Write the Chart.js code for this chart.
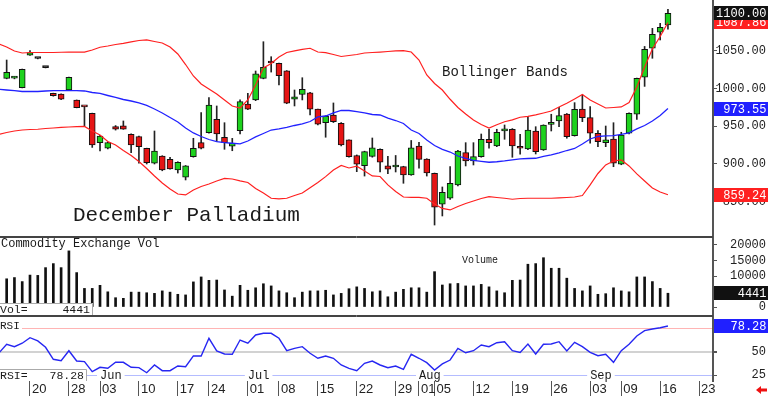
<!DOCTYPE html>
<html>
<head>
<meta charset="utf-8">
<script src="https://cdn.jsdelivr.net/npm/chart.js@4"></script>
<style>
  html, body { margin: 0; padding: 0; background: #fff; overflow: hidden; }
  #wrap { position: relative; width: 768px; height: 396px; }
  canvas { position: absolute; left: 0; }
</style>
</head>
<body>
<div id="wrap">
  <canvas id="price" width="768" height="237" style="top:0px"></canvas>
  <canvas id="vol" width="768" height="79" style="top:237px"></canvas>
  <canvas id="rsi" width="768" height="80" style="top:316px"></canvas>
</div>
<script>
// trading days (2024), first one is only used by the indicators
const dates = ['05-14','05-15','05-16','05-17','05-20','05-21','05-22','05-23','05-24','05-28','05-29','05-30','05-31',
  '06-03','06-04','06-05','06-06','06-07','06-10','06-11','06-12','06-13','06-14','06-17','06-18','06-20','06-21','06-24','06-25','06-26','06-27','06-28',
  '07-01','07-02','07-03','07-05','07-08','07-09','07-10','07-11','07-12','07-15','07-16','07-17','07-18','07-19','07-22','07-23','07-24','07-25','07-26','07-29','07-30','07-31',
  '08-01','08-02','08-05','08-06','08-07','08-08','08-09','08-12','08-13','08-14','08-15','08-16','08-19','08-20','08-21','08-22','08-23','08-26','08-27','08-28','08-29','08-30',
  '09-03','09-04','09-05','09-06','09-09','09-10','09-11','09-12','09-13','09-16','09-17'];

const open = [null,
  1013.7, 1014, 1001.3, 1044.3, 1040, 1028, 993.8, 992.9, 998.2, 984.9,
  976.3, 967.3, 928.3, 920.9, 949.5, 950.8, 939.4, 936.3, 920.9, 901,
  910.6, 906.3, 892, 882.4, 909.7, 928.3, 941.6, 959.3, 935.4, 923.5,
  944.2, 979.6, 985, 1013.7, 1035, 1033.6, 1023.8, 985.9, 992.5, 994.6,
  972.9, 954.8, 965, 954, 931.9, 911.3, 897.7, 910.2, 919.5, 897.6,
  896, 896.4, 885.4, 923.9, 906.6, 887.7, 846.7, 854.5, 872.2, 915,
  904, 909.7, 932.8, 923.9, 943.8, 946.1, 923, 919.9, 943.8, 918.6,
  952.6, 957.1, 966.4, 937.6, 972.9, 961.5, 940.8, 928.3, 933.2, 899.6,
  940.8, 966, 1015.1, 1053.6, 1074.8, 1084.5];
const high = [null,
  1038, 1016, 1026, 1050.4, 1040.5, 1028.5, 994, 993, 1015.5, 985,
  976.5, 967.5, 938, 929, 951, 957.1, 940, 937, 921, 943.8,
  911, 909, 903, 898, 934.1, 968.1, 988, 977, 954.8, 934,
  985, 993.8, 1023.4, 1062.3, 1042.4, 1034, 1024, 998.2, 1014.5, 995,
  973, 964, 981, 955, 932, 912, 917, 934.5, 920, 910.2,
  911.3, 897, 931.2, 928.8, 907, 888, 869.5, 896.4, 918, 928.3,
  928.3, 939.8, 946.1, 946.1, 951.8, 947, 939.4, 962.8, 949.5, 952,
  966, 975.3, 967, 981.4, 991.6, 976.1, 944.2, 950.4, 954.8, 942.1,
  968, 1014, 1056, 1080, 1086.7, 1105.3];
const low = [null,
  1013, 1013, 1001, 1044, 1039.5, 1027.5, 990, 985.5, 998, 974.5,
  949.5, 922, 917.3, 920, 945, 946, 915, 901, 900, 900,
  891, 893, 888, 878.8, 909, 920, 941, 929.6, 919.5, 917.6,
  940, 972, 984, 1013, 1022, 1004.8, 980, 977, 985, 965,
  952, 935.5, 955, 924, 909, 889.8, 884, 909, 889.4, 887,
  889.4, 874.4, 885, 894.3, 884, 819, 831, 853, 871, 897.4,
  898.7, 909, 920.9, 923, 932.8, 908.9, 912.9, 919, 913.3, 918,
  943.8, 949.5, 934.2, 937, 956.2, 927.5, 923, 923, 896.4, 899,
  940, 959.3, 1003, 1040.3, 1064.6, 1078.8];
const close = [null,
  1021.7, 1015, 1025.7, 1047.7, 1040, 1028, 990.6, 985.9, 1015.1, 974.7,
  975.8, 925.2, 937.2, 928.3, 946.1, 946.1, 925.2, 923, 901.7, 917.3,
  892, 893.4, 902.3, 897.4, 920.9, 920.9, 978.3, 939.8, 928.3, 927.5,
  982.7, 972.6, 1019.5, 1028.3, 1034, 1017.2, 980.6, 989.3, 999.1, 972.6,
  952.7, 963.7, 956.1, 925.2, 909.7, 899.6, 916.4, 921.3, 902.3, 893.1,
  897, 885.4, 921.3, 906.2, 888, 842.7, 862.5, 874.4, 917.3, 904,
  909.7, 932.8, 928.3, 942.1, 946.5, 923.9, 920.9, 945.1, 916.4, 951.8,
  953.9, 964.1, 936.3, 972.6, 961.5, 940.8, 929.6, 931.9, 901, 938.5,
  967.3, 1013.7, 1052.2, 1072.1, 1081.4, 1100];

const bbUpper = [1059.3,
  1055.3, 1050, 1047.3, 1048, 1048, 1048, 1048, 1048.3, 1048.6, 1048.6,
  1048.6, 1051.3, 1054.9, 1056.6, 1058.6, 1060, 1062, 1063.9, 1064.6, 1062.6,
  1060.6, 1055.3, 1046, 1032, 1016.8, 1006.2, 999.5, 992.9, 984.9, 977,
  974.3, 985, 1004.9, 1027.4, 1033.4, 1042, 1048, 1050.2, 1052.2, 1053.6,
  1048.6, 1047.7, 1045.3, 1042.7, 1044, 1045.3, 1047.3, 1048, 1048.6, 1049.3,
  1050, 1050.4, 1048.6, 1038, 1018.1, 1006.9, 998.2, 985.9, 975, 966.4,
  958.4, 952.4, 947.8, 952, 956.1, 958.5, 962, 963.3, 965.3, 967.7,
  970.3, 975.6, 980.6, 986.3, 992.2, 985, 979.6, 974.3, 975, 975.7,
  981.6, 1002.2, 1028.7, 1052.6, 1069.2, 1087.86];
const bbMiddle = [999.1,
  998.2, 997.5, 996.2, 996.2, 996.2, 996.9, 997.3, 997.5, 997.5, 997.5,
  996.9, 994.9, 993.6, 990.9, 988.3, 985.6, 983.6, 981, 977.7, 973,
  967.7, 961.7, 955.8, 947.8, 941.2, 936.5, 932.5, 929.6, 928.3, 927.5,
  926.6, 930.5, 935.9, 940.5, 945.1, 946.5, 948.5, 951.1, 953.1, 956.4,
  962.4, 963.7, 967.7, 971, 971, 969.4, 967.7, 965.7, 965, 961,
  957.7, 953.8, 945.1, 940.5, 931.9, 924.6, 919.3, 915.9, 910.6, 907.3,
  904.7, 903.4, 902.3, 903, 904, 905.6, 906.7, 907.3, 907.6, 910,
  912, 914.6, 917.9, 920.6, 926.6, 933.2, 936.5, 937.2, 937.6, 939.2,
  941.2, 946.5, 951.1, 957.1, 964.4, 973.55];
const bbLower = [939.2,
  941.8, 943.8, 945.1, 945.8, 946.1, 947.1, 947.8, 948.5, 949.1, 949.5,
  949.8, 943.8, 938.5, 929.9, 925.2, 918, 911.3, 903.3, 894, 884.1,
  874.8, 866.9, 860.2, 858.9, 865.5, 870.2, 873.5, 877.5, 880.8, 880.1,
  877.5, 875.5, 867.5, 861.5, 854.5, 853.6, 854.5, 858.2, 861.5, 868.6,
  875.5, 883.2, 891.9, 898, 894.7, 897.1, 890.7, 884.1, 883.4, 872.2,
  863.5, 856.2, 855.8, 855.8, 854.5, 846.9, 841, 839, 843.6, 847.6,
  850.9, 854.2, 856.6, 855.5, 854.5, 853.2, 854.2, 854.5, 854.5, 854.5,
  854.5, 854.9, 855.5, 856.2, 858.2, 872.2, 887.4, 898.7, 904, 905.3,
  897.4, 886.8, 877.5, 868.2, 862.9, 859.24];

const volume = [null,
  9100, 9500, 8200, 10300, 10200, 12700, 14000, 12700, 18100, 11100,
  6000, 6000, 7000, 4900, 3000, 2800, 4800, 4800, 4600, 4400,
  5200, 4800, 4100, 3900, 8100, 9700, 8600, 8700, 5500, 3500,
  7000, 5400, 6200, 7500, 6800, 5200, 4600, 3000, 4800, 5200,
  5200, 5400, 3900, 4400, 5900, 6500, 6000, 4900, 5200, 3300,
  4800, 5700, 6200, 6200, 4800, 11400, 7100, 7500, 7600, 6800,
  6800, 7300, 6500, 5200, 4600, 8600, 8700, 13800, 14000, 15900,
  12500, 12500, 9300, 6000, 5200, 6800, 4100, 4300, 6200, 5200,
  4900, 9700, 9700, 8200, 6000, 4441];

const rsi = [49,
  58.4, 55.8, 59.5, 65.5, 62, 55.1, 42.1, 40.6, 51.4, 40.2,
  39.5, 28.6, 33.4, 32.3, 38.8, 38.8, 33.4, 33, 27.5, 35.9,
  29.7, 29.7, 34.8, 34, 45.7, 45.7, 64.9, 51.1, 47.8, 47.5,
  63, 59.5, 68.5, 70.3, 70.3, 64.9, 51.4, 54, 55.8, 48.6,
  43.2, 45.7, 43.2, 35.9, 32.3, 29.7, 37.7, 40.2, 35.9, 33,
  34.8, 31.2, 47.5, 43.2, 38.4, 30.4, 37, 41.3, 54, 49.2,
  51.4, 57.6, 55.8, 60.1, 61.2, 51.4, 49.6, 58.7, 47.8, 58.4,
  58.7, 61.2, 51.1, 60.5, 55.8, 49.6, 46, 47.5, 38.8, 51.4,
  58.4, 67.4, 73.2, 75, 76.4, 78.28];

const priceTicks = [850, 900, 950, 1000, 1050, 1100];
const volTicks = [0, 5000, 10000, 15000, 20000];
const rsiTicks = [25, 50, 75];
// positions in the dates list (90 = 09-23, past the last bar)
const dayTicks = [4, 9, 13, 18, 23, 27, 32, 36, 41, 46, 51, 54, 56, 61, 66, 71, 76, 80, 85, 90];
const dayTickLabels = ['20','28','03','10','17','24','01','08','15','22','29','01','05','12','19','26','03','09','16','23'];
const monthStarts = [13, 32, 54, 76];
const monthLabels = ['Jun', 'Jul', 'Aug', 'Sep'];

const MONO = '"Liberation Mono", "DejaVu Sans Mono", monospace';
const NARROW = '"Liberation Sans Narrow", "Liberation Sans", Arial, sans-serif';
const X_MIN = 0.144, X_MAX = 91.79;
const last = close.length - 1;

const bars = dates.map((d, k) => k).filter(k => open[k] !== null);
const bodyColor = k => close[k] > open[k] ? '#1ed21e' : (close[k] < open[k] ? '#e51515' : '#222');

const xHidden = { type: 'linear', min: X_MIN, max: X_MAX, offset: false, display: false };

function rightAxis(min, max, ticks, fmt, pad) {
  return {
    position: 'right', min: min, max: max,
    afterBuildTicks: s => { s.ticks = ticks.map(v => ({ value: v })); },
    afterFit: s => { s.width = 53; s.paddingTop = 0; s.paddingBottom = 0; },
    grid: { drawOnChartArea: false, tickLength: 4, color: '#555' },
    border: { color: '#555', width: 2 },
    ticks: { callback: fmt, padding: pad, crossAlign: 'far', autoSkip: false, color: '#222', font: { family: MONO, size: 12 } }
  };
}

function valueBox(chart, value, text, bg) {
  const ctx = chart.ctx;
  const y = Math.round(chart.scales.y.getPixelForValue(value));
  const left = chart.chartArea.right + 1;
  ctx.save();
  ctx.fillStyle = bg;
  ctx.fillRect(left, y - 7, chart.width - left, 14);
  ctx.fillStyle = '#fff';
  ctx.font = '12px ' + MONO;
  ctx.textAlign = 'right';
  ctx.textBaseline = 'middle';
  ctx.fillText(text, chart.width - 1.5, y + 1);
  ctx.restore();
}

function hLine(ctx, y, x1, x2, color) {
  ctx.save();
  ctx.strokeStyle = color;
  ctx.lineWidth = 1;
  ctx.beginPath();
  ctx.moveTo(x1, y);
  ctx.lineTo(x2, y);
  ctx.stroke();
  ctx.restore();
}

const common = {
  responsive: false,
  animation: false,
  events: [],
  layout: { padding: { right: 2 } },
  plugins: { legend: { display: false }, tooltip: { enabled: false } }
};

// price panel: candles + bollinger bands
new Chart(document.getElementById('price'), {
  type: 'bar',
  data: {
    datasets: [
      { type: 'line', data: bbUpper.map((y, k) => ({ x: k, y: y })), borderColor: '#ff2020', borderWidth: 1.2, pointRadius: 0, order: -1 },
      { type: 'line', data: bbMiddle.map((y, k) => ({ x: k, y: y })), borderColor: '#2222ff', borderWidth: 1.3, pointRadius: 0, order: -1 },
      { type: 'line', data: bbLower.map((y, k) => ({ x: k, y: y })), borderColor: '#ff2020', borderWidth: 1.2, pointRadius: 0, order: -1 },
      { data: bars.map(k => ({ x: k, y: [open[k], close[k]] })), backgroundColor: bars.map(bodyColor),
        borderColor: '#111', borderWidth: 1, borderSkipped: false, barThickness: 6, grouped: false, minBarLength: 2, order: 0 },
      { data: bars.map(k => ({ x: k, y: [low[k], high[k]] })), backgroundColor: '#222', barThickness: 1, grouped: false, order: 1 }
    ]
  },
  options: Object.assign({}, common, {
    scales: { x: xHidden, y: rightAxis(803.1, 1117.65, priceTicks, v => v.toFixed(2), -1) }
  }),
  plugins: [{
    id: 'priceText',
    beforeDatasetsDraw(chart) {
      const ctx = chart.ctx;
      ctx.save();
      ctx.fillStyle = '#1a1a1a';
      ctx.textBaseline = 'alphabetic';
      ctx.font = '14px ' + MONO;
      ctx.fillText('Bollinger Bands', 442, 76);
      ctx.font = '21px ' + MONO;
      ctx.fillText('December Palladium', 73, 220.5);
      ctx.restore();
    },
    afterDraw(chart) {
      valueBox(chart, bbUpper[last], bbUpper[last].toFixed(2), '#ff2020');
      valueBox(chart, bbMiddle[last], bbMiddle[last].toFixed(2), '#2020ff');
      valueBox(chart, bbLower[last], bbLower[last].toFixed(2), '#ff2020');
      valueBox(chart, close[last], close[last].toFixed(2), '#111');
      hLine(chart.ctx, chart.height - 0.5, 0, chart.chartArea.right, '#444');
    }
  }]
});

// volume panel
new Chart(document.getElementById('vol'), {
  type: 'bar',
  data: {
    datasets: [{ data: bars.map(k => ({ x: k, y: volume[k] })), backgroundColor: '#111', barThickness: 2, grouped: false }]
  },
  options: Object.assign({}, common, {
    scales: { x: xHidden, y: rightAxis(-2900, 22580, volTicks, v => String(v), 13) }
  }),
  plugins: [{
    id: 'volText',
    afterDraw(chart) {
      const ctx = chart.ctx;
      const right = chart.chartArea.right;
      hLine(ctx, 0.5, 0, right, '#444');
      hLine(ctx, chart.height - 0.5, 0, right, '#444');
      ctx.save();
      ctx.fillStyle = '#1a1a1a';
      ctx.textBaseline = 'alphabetic';
      ctx.font = '12px ' + MONO;
      ctx.fillText('Commodity Exchange Vol', 1, 10);
      ctx.font = '10px ' + MONO;
      ctx.fillText('Volume', 462, 26);
      ctx.fillStyle = '#fff';
      ctx.fillRect(0, 66, 93, 12);
      ctx.strokeStyle = '#aaa';
      ctx.lineWidth = 1;
      ctx.beginPath();
      ctx.moveTo(0, 66.5); ctx.lineTo(92.5, 66.5); ctx.lineTo(92.5, 78);
      ctx.stroke();
      ctx.fillStyle = '#1a1a1a';
      ctx.font = '11.5px ' + MONO;
      ctx.fillText('Vol=', 0, 76);
      ctx.textAlign = 'right';
      ctx.fillText(String(volume[last]), 90, 76);
      ctx.restore();
      valueBox(chart, volume[last], String(volume[last]), '#111');
    }
  }]
});

// rsi panel with the date axis
const rsiLevelColor = { 25: '#b4bcff', 50: '#d2d2d2', 75: '#ffb4b4' };
const rsiAxis = rightAxis(18.5, 89.1, rsiTicks, v => String(v), 34.6);
rsiAxis.grid = {
  drawOnChartArea: true, tickLength: 4, tickColor: '#555',
  color: c => rsiLevelColor[c.tick ? c.tick.value : 50] || '#ccc',
  lineWidth: c => (c.tick && c.tick.value === 50) ? 2 : 1
};

new Chart(document.getElementById('rsi'), {
  type: 'line',
  data: {
    datasets: [{ data: rsi.map((y, k) => ({ x: k, y: y })), borderColor: '#2626f2', borderWidth: 1.4, pointRadius: 0 }]
  },
  options: Object.assign({}, common, {
    scales: {
      x: {
        type: 'linear', min: X_MIN, max: X_MAX, offset: false,
        afterBuildTicks: s => { s.ticks = dayTicks.map(v => ({ value: v })); },
        afterFit: s => { s.height = 15; s.paddingLeft = 0; s.paddingRight = 0; },
        grid: { drawOnChartArea: false, tickLength: 15, color: '#555' },
        border: { display: false },
        ticks: {
          callback: (v, i) => dayTickLabels[i], autoSkip: false, maxRotation: 0,
          align: 'start', labelOffset: 2, padding: -14, color: '#222', font: { family: NARROW, size: 13 }
        }
      },
      y: rsiAxis
    }
  }),
  plugins: [{
    id: 'rsiText',
    beforeDatasetsDraw(chart) {
      const ctx = chart.ctx, xs = chart.scales.x, ys = chart.scales.y;
      ctx.save();
      ctx.font = '12px ' + MONO;
      ctx.textBaseline = 'middle';
      const py = ys.getPixelForValue(25);
      monthStarts.forEach((k, j) => {
        const px = xs.getPixelForValue(k);
        const w = ctx.measureText(monthLabels[j]).width;
        ctx.fillStyle = '#fff';
        ctx.fillRect(px - 3, py - 6, w + 6, 12);
        ctx.fillStyle = '#1a1a1a';
        ctx.fillText(monthLabels[j], px, py + 1);
      });
      ctx.fillStyle = '#fff';
      ctx.fillRect(0, 5, 22, 10);
      ctx.fillStyle = '#1a1a1a';
      ctx.font = '11px ' + MONO;
      ctx.textBaseline = 'alphabetic';
      ctx.fillText('RSI', 0, 13);
      ctx.restore();
    },
    afterDraw(chart) {
      const ctx = chart.ctx;
      hLine(ctx, 0.5, 0, chart.chartArea.right, '#444');
      ctx.save();
      ctx.fillStyle = '#fff';
      ctx.fillRect(0, 54, 86, 11);
      ctx.strokeStyle = '#aaa';
      ctx.lineWidth = 1;
      ctx.beginPath();
      ctx.moveTo(0, 53.5); ctx.lineTo(86.5, 53.5); ctx.lineTo(86.5, 65);
      ctx.stroke();
      ctx.fillStyle = '#1a1a1a';
      ctx.font = '11.5px ' + MONO;
      ctx.textBaseline = 'alphabetic';
      ctx.fillText('RSI=', 0, 63);
      ctx.textAlign = 'right';
      ctx.fillText(rsi[last].toFixed(2), 84, 63);
      // scroll arrow at bottom right
      ctx.fillStyle = '#ee1111';
      ctx.beginPath();
      ctx.moveTo(756, 74); ctx.lineTo(761, 70); ctx.lineTo(761, 72.5); ctx.lineTo(767, 72.5);
      ctx.lineTo(767, 75.5); ctx.lineTo(761, 75.5); ctx.lineTo(761, 78); ctx.closePath();
      ctx.fill();
      ctx.restore();
      valueBox(chart, rsi[last], rsi[last].toFixed(2), '#2020ff');
    }
  }]
});
</script>
</body>
</html>
